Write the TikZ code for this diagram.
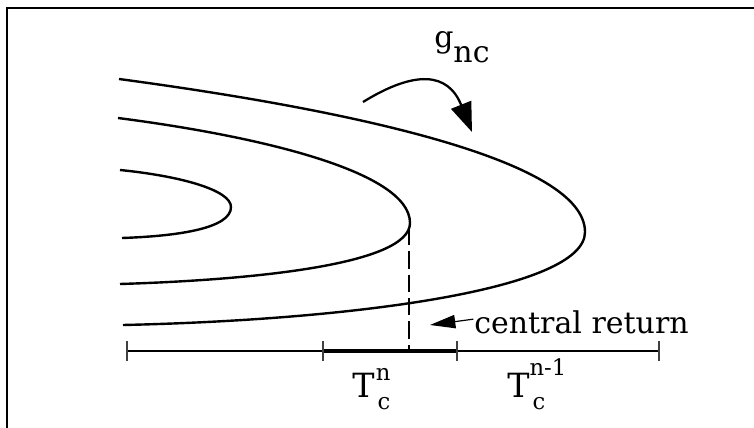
\documentclass[tikz,border=0pt]{standalone}
\usepackage{fontspec}
\setmainfont{DejaVu Serif}
\usetikzlibrary{arrows.meta}
\begin{document}
\begin{tikzpicture}[x=0.75pt,y=-0.75pt,
  curve/.style={line width=1.8pt},
  frameline/.style={line width=1.5pt},
  axisline/.style={line width=0.8pt},
  tickline/.style={line width=1.1pt, black!75},
  lbl/.style={inner sep=0pt, font=\fontsize{22.5}{26}\selectfont},
  bigarrow/.style={line width=1.7pt, -{Triangle[length=22pt,width=16pt]}},
  smallarrow/.style={line width=0.9pt, -{Triangle[length=19pt,width=10pt]}}]
\useasboundingbox (0,0) rectangle (754,428);
% frame
\draw[frameline] (7,428) -- (7,8) -- (754,8);
% curves
\coordinate (o1) at (119,79);
\coordinate (ot) at (585,232);
\coordinate (o2) at (123,325);
\draw[curve] (o1) .. controls (350,110) and (585,160) .. (ot)
  .. controls (585,290) and (350,320) .. (o2);
\coordinate (m1) at (118,118);
\coordinate (mt) at (410,223);
\coordinate (m2) at (120,284);
\draw[curve] (m1) .. controls (250,135) and (410,170) .. (mt)
  .. controls (410,265) and (250,280) .. (m2);
\coordinate (i1) at (120,170);
\coordinate (it) at (231,207);
\coordinate (i2) at (122,238);
\draw[curve] (i1) .. controls (180,176) and (231,190) .. (it)
  .. controls (231,228) and (180,236) .. (i2);
% axis
\coordinate (a0) at (127,351);
\coordinate (a1) at (323,351);
\coordinate (a2) at (457,351);
\coordinate (a3) at (659,351);
\draw[axisline] (a0) -- (a3);
\draw[line width=2.3pt] (a1) -- (a2);
\foreach \p in {a0,a1,a2,a3}
  \draw[tickline] ([yshift=7.5pt]\p) -- ([yshift=-7.5pt]\p);
% dashed line
\coordinate (d0) at (409,228);
\coordinate (d1) at (409,350);
\draw[line width=0.8pt, dash pattern=on 13pt off 4.5pt] (d0) -- (d1);
% central return
\node[lbl, anchor=base west] (cr) at (474,333) {central return};
\coordinate (crtip) at (430,325);
\draw[smallarrow] ([xshift=-0.5pt,yshift=2pt]cr.west) -- (crtip);
% g_nc
\node[lbl, anchor=base west, font=\fontsize{22.5}{26}\selectfont] (g) at (434,48) {g\raisebox{-0.5em}{nc}};
\coordinate (g0) at (363,102);
\coordinate (g1) at (472,132);
\draw[bigarrow] (g0) .. controls (415,70) and (448,72) .. (g1);
% T labels
\node[lbl, anchor=base west, font=\fontsize{25}{29}\selectfont] (tn) at (352,397)
  {T\rlap{\raisebox{0.5em}{\fontsize{17}{20}\selectfont\hspace{0.06em}n}}\raisebox{-0.36em}{\fontsize{17}{20}\selectfont\hspace{0.14em}c}};
\node[lbl, anchor=base west, font=\fontsize{25}{29}\selectfont] (tn1) at (507,397)
  {T\rlap{\raisebox{0.66em}{\fontsize{17}{20}\selectfont n-1}}\raisebox{-0.36em}{\fontsize{17}{20}\selectfont\hspace{0.14em}c}};
\end{tikzpicture}
\end{document}
